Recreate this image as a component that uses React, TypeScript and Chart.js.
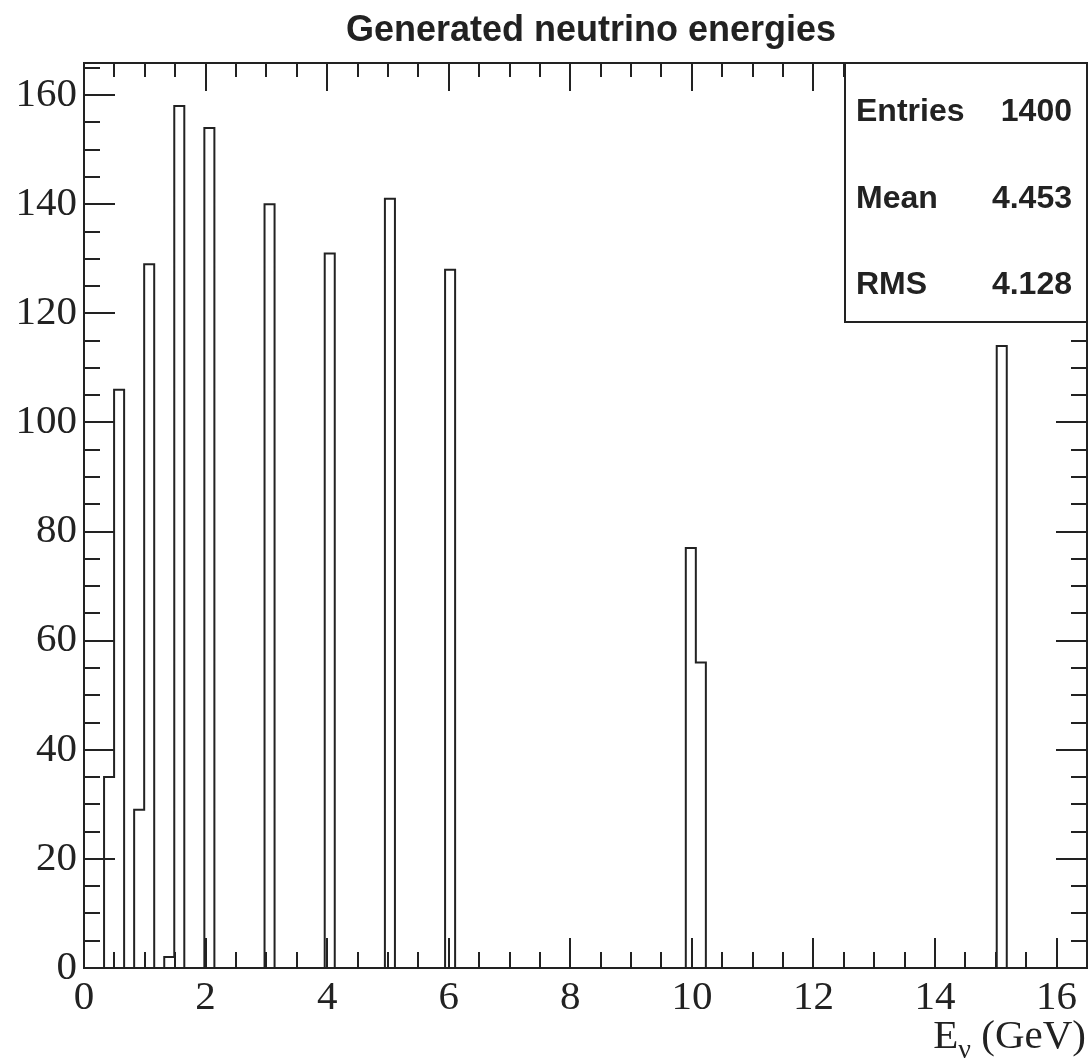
import React, { useEffect, useRef } from 'react';
import { Chart, registerables } from 'chart.js';

Chart.register(...registerables);

// ---- data ----
const TITLE = 'Generated neutrino energies';
const X_MIN = 0;
const X_MAX = 16.5;
const N_BINS = 100;
const FILLED_BINS = [2, 3, 5, 6, 8, 9, 12, 18, 24, 30, 36, 60, 61, 91];
const BIN_COUNTS = [35, 106, 29, 129, 2, 158, 154, 140, 131, 141, 128, 77, 56, 114];
const Y_MAX = 165.9;
const X_STEP = 2;
const Y_STEP = 20;
const STAT_LABELS = ['Entries', 'Mean', 'RMS'];
const STAT_VALUES = ['1400', '4.453', '4.128'];
const AXIS_TITLE_MAIN = 'E';
const AXIS_TITLE_SUB = 'ν';
const AXIS_TITLE_UNIT = ' (GeV)';

const INK = '#222';

function buildSteps() {
  const w = (X_MAX - X_MIN) / N_BINS;
  const counts = new Array(N_BINS).fill(0);
  FILLED_BINS.forEach((b, i) => { counts[b] = BIN_COUNTS[i]; });
  // points at left bin edges; 'before' stepping (horizontal first) draws each value over [edge, next edge]
  const pts: { x: number; y: number }[] = [];
  for (let k = 0; k < N_BINS; k++) pts.push({ x: X_MIN + k * w, y: counts[k] });
  pts.push({ x: X_MAX, y: 0 });
  return pts;
}

const rootDecor = {
  id: 'rootDecor',
  afterDraw(chart: any) {
    const { ctx, chartArea: a, scales } = chart;
    const xs = scales.x;
    const ys = scales.y;
    ctx.save();
    ctx.strokeStyle = INK;
    ctx.lineWidth = 2;
    // ticks
    ctx.beginPath();
    for (let v = X_MIN; v <= X_MAX + 1e-9; v += 0.5) {
      const px = Math.round(xs.getPixelForValue(v));
      const major = Math.abs(v / X_STEP - Math.round(v / X_STEP)) < 1e-6;
      const len = major ? 30 : 16;
      ctx.moveTo(px, a.bottom); ctx.lineTo(px, a.bottom - len);
      ctx.moveTo(px, a.top); ctx.lineTo(px, a.top + (major ? 28 : 14));
    }
    for (let v = 0; v <= Y_MAX + 1e-9; v += 5) {
      const py = Math.round(ys.getPixelForValue(v));
      const major = Math.abs(v / Y_STEP - Math.round(v / Y_STEP)) < 1e-6;
      const len = major ? 31 : 16;
      ctx.moveTo(a.left, py); ctx.lineTo(a.left + len, py);
      ctx.moveTo(a.right, py); ctx.lineTo(a.right - len, py);
    }
    ctx.stroke();
    // frame
    ctx.strokeRect(a.left, a.top, a.right - a.left, a.bottom - a.top);

    // stats box
    const bx = 845, by = a.top, bw = a.right - 845, bh = 322 - a.top;
    ctx.fillStyle = '#fff';
    ctx.fillRect(bx, by, bw, bh);
    ctx.strokeRect(bx, by, bw, bh);
    ctx.fillStyle = INK;
    ctx.font = 'bold 32px "Liberation Sans", Arial, sans-serif';
    ctx.textBaseline = 'alphabetic';
    const rows = [121, 208, 294];
    STAT_LABELS.forEach((l, i) => {
      ctx.textAlign = 'left';
      ctx.fillText(l, 856, rows[i]);
      ctx.textAlign = 'right';
      ctx.fillText(STAT_VALUES[i], 1072, rows[i]);
    });

    // title
    ctx.font = 'bold 36px "Liberation Sans", Arial, sans-serif';
    ctx.textAlign = 'center';
    ctx.fillText(TITLE, 591, 41);

    // axis title
    const big = '41px "Liberation Serif", serif';
    const small = '28px "Liberation Serif", serif';
    ctx.font = big;
    const wE = ctx.measureText(AXIS_TITLE_MAIN).width;
    const wU = ctx.measureText(AXIS_TITLE_UNIT).width;
    ctx.font = small;
    const wS = ctx.measureText(AXIS_TITLE_SUB).width;
    const x0 = 1086 - (wE + wS + wU);
    ctx.textAlign = 'left';
    ctx.font = big;
    ctx.fillText(AXIS_TITLE_MAIN, x0, 1048);
    ctx.font = small;
    ctx.fillText(AXIS_TITLE_SUB, x0 + wE, 1058);
    ctx.font = big;
    ctx.fillText(AXIS_TITLE_UNIT, x0 + wE + wS, 1048);
    ctx.restore();
  },
};

export default function App() {
  const ref = useRef<HTMLCanvasElement>(null);
  useEffect(() => {
    document.body.style.margin = '0';
    const canvas = ref.current!;
    const chart = new Chart(canvas, {
      type: 'line',
      data: {
        datasets: [
          {
            data: buildSteps(),
            stepped: 'before',
            borderColor: INK,
            borderWidth: 2,
            pointRadius: 0,
            fill: false,
          },
        ],
      },
      options: {
        animation: false,
        responsive: false,
        parsing: false,
        layout: { padding: { top: 63, right: 2, left: 0, bottom: 0 } },
        plugins: { legend: { display: false }, title: { display: false }, tooltip: { enabled: false } },
        scales: {
          x: {
            type: 'linear',
            min: X_MIN,
            max: X_MAX,
            grid: { display: false, drawTicks: false },
            border: { display: false },
            ticks: {
              stepSize: X_STEP,
              includeBounds: false,
              autoSkip: false,
              maxRotation: 0,
              padding: 6,
              color: INK,
              font: { family: '"Liberation Serif", serif', size: 41 },
            },
            afterFit: (s: any) => { s.height = 93; },
          },
          y: {
            type: 'linear',
            min: 0,
            max: Y_MAX,
            grid: { display: false, drawTicks: false },
            border: { display: false },
            ticks: {
              stepSize: Y_STEP,
              includeBounds: false,
              padding: 7,
              color: INK,
              font: { family: '"Liberation Serif", serif', size: 41 },
            },
            afterFit: (s: any) => { s.width = 84; },
          },
        },
      },
      plugins: [rootDecor],
    });
    return () => chart.destroy();
  }, []);
  return <canvas ref={ref} width={1089} height={1061} style={{ display: 'block' }} />;
}
